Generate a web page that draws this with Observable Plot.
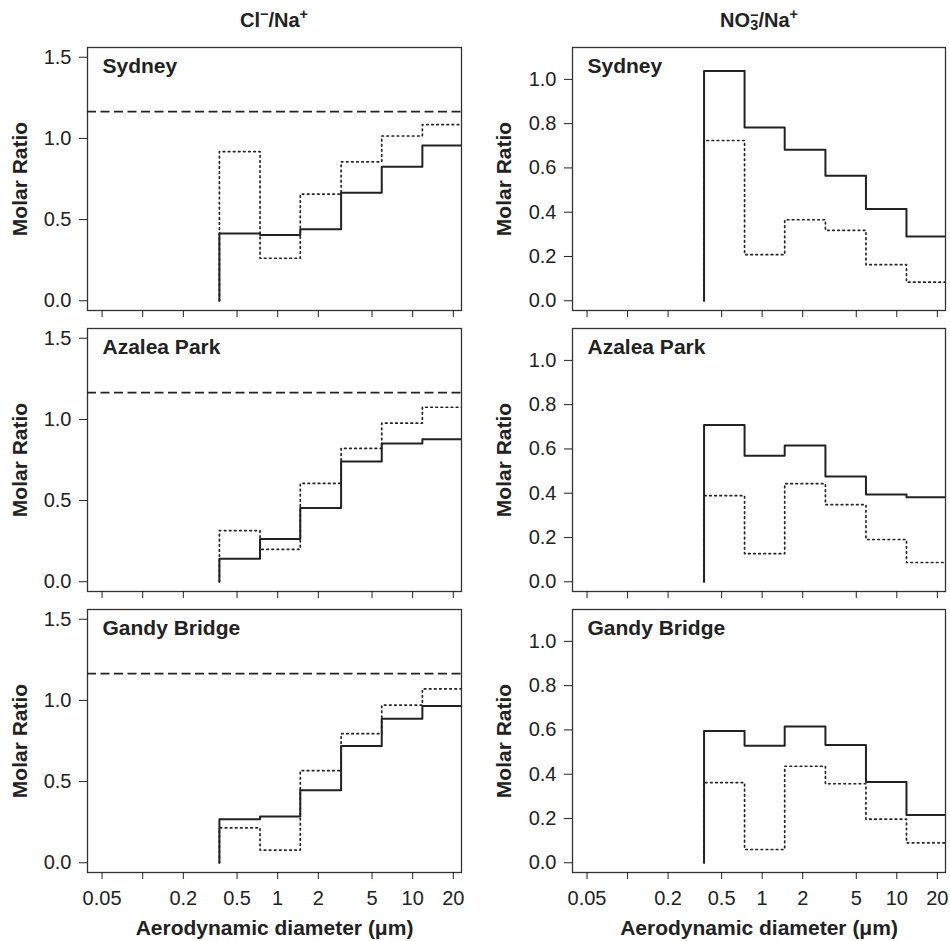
<!DOCTYPE html>
<html><head><meta charset="utf-8">
<script src="https://cdn.jsdelivr.net/npm/d3@7"></script>
<script src="https://cdn.jsdelivr.net/npm/@observablehq/plot@0.6"></script>
<style>
body{margin:0;background:#fff;}
#chart{position:relative;width:950px;height:941px;background:#fff;font-family:"Liberation Sans",Arial,Helvetica,sans-serif;color:#222;overflow:hidden;}
.panel{position:absolute;}
.title{position:absolute;top:8px;width:374px;text-align:center;font-weight:bold;font-size:20px;line-height:24px;white-space:nowrap;}
.title sup{font-size:0.72em;line-height:0;}
.title .stack{display:inline-flex;flex-direction:column;align-items:center;font-size:0.72em;line-height:0.72em;vertical-align:0.5em;}
</style></head><body><div id="chart"></div>
<script>
const sites = ["Sydney", "Azalea Park", "Gandy Bridge"];
const binEdges = [0.37, 0.74, 1.47, 2.95, 5.9, 11.8, 24];
const clNaSolid = [
  [0.415, 0.405, 0.44, 0.665, 0.825, 0.956],
  [0.141, 0.264, 0.455, 0.741, 0.851, 0.878],
  [0.268, 0.285, 0.447, 0.719, 0.887, 0.965]
];
const clNaDotted = [
  [0.919, 0.262, 0.657, 0.856, 1.015, 1.085],
  [0.315, 0.2, 0.606, 0.821, 0.977, 1.075],
  [0.215, 0.078, 0.567, 0.795, 0.971, 1.071]
];
const no3NaSolid = [
  [1.038, 0.783, 0.682, 0.565, 0.414, 0.29],
  [0.708, 0.569, 0.615, 0.476, 0.394, 0.382],
  [0.595, 0.529, 0.616, 0.532, 0.365, 0.216]
];
const no3NaDotted = [
  [0.724, 0.208, 0.366, 0.318, 0.163, 0.084],
  [0.389, 0.127, 0.443, 0.348, 0.191, 0.087],
  [0.362, 0.06, 0.436, 0.357, 0.197, 0.09]
];
const seawaterClNa = 1.165;
const xTicks = [0.05, 0.1, 0.2, 0.5, 1, 2, 5, 10, 20];
const xTickLabels = ["0.05", "", "0.2", "0.5", "1", "2", "5", "10", "20"];
const yTicksCl = [0, 0.5, 1, 1.5];
const yTicksNO3 = [0, 0.2, 0.4, 0.6, 0.8, 1.0];
const yLabel = "Molar Ratio";
const xLabel = "Aerodynamic diameter (μm)";
const columnTitles = [
  "Cl<sup>−</sup>/Na<sup>+</sup>",
  "NO<span class='stack'><span>−</span><span>3</span></span>/Na<sup>+</sup>"
];

const chart = document.getElementById("chart");
const ink = "#222";

function stepPoints(vals) {
  const pts = [{x: binEdges[0], y: 0}];
  vals.forEach((v, i) => pts.push({x: binEdges[i], y: v}));
  pts.push({x: binEdges[vals.length], y: vals[vals.length - 1]});
  return pts;
}

const rowTops = [37, 318, 599];
const xLabelData = xTicks.map((v, i) => ({v, label: xTickLabels[i]})).filter(d => d.label !== "");

for (let col = 0; col < 2; col++) {
  const t = document.createElement("div");
  t.className = "title";
  t.style.left = (col === 0 ? 87 : 572) + "px";
  t.innerHTML = columnTitles[col];
  chart.appendChild(t);

  for (let row = 0; row < 3; row++) {
    const isCl = col === 0;
    const bottom = row === 2;
    const solid = isCl ? clNaSolid[row] : no3NaSolid[row];
    const dotted = isCl ? clNaDotted[row] : no3NaDotted[row];
    const marks = [
      Plot.frame({stroke: "#333", strokeWidth: 1.3}),
      Plot.axisY(isCl ? yTicksCl : yTicksNO3, {tickSize: 8, tickPadding: 8, tickFormat: d3.format(".1f"), label: null}),
      Plot.axisX(xTicks, {tickSize: 7, tickFormat: () => "", label: null})
    ];
    if (bottom) marks.push(Plot.text(xLabelData, {x: "v", text: "label", frameAnchor: "bottom", dy: 18, lineAnchor: "top", fontSize: 20, fill: ink}));
    if (isCl) marks.push(Plot.ruleY([seawaterClNa], {stroke: ink, strokeWidth: 1.8, strokeDasharray: "9,4.5"}));
    marks.push(Plot.line(stepPoints(dotted), {x: "x", y: "y", curve: "step-after", stroke: ink, strokeWidth: 1.7, strokeDasharray: "1.5,3.6", clip: true}));
    marks.push(Plot.line(stepPoints(solid), {x: "x", y: "y", curve: "step-after", stroke: ink, strokeWidth: 2, clip: true}));
    marks.push(Plot.text([sites[row]], {frameAnchor: "top-left", text: d => d, dx: 15, dy: 11, textAnchor: "start", lineAnchor: "top", fontWeight: "bold", fontSize: 21, fill: ink}));
    marks.push(Plot.text([yLabel], {frameAnchor: "left", text: d => d, rotate: -90, dx: isCl ? -75 : -76, textAnchor: "middle", lineAnchor: "top", fontWeight: "bold", fontSize: 21, fill: ink}));
    if (bottom) marks.push(Plot.text([xLabel], {frameAnchor: "bottom", text: d => d, dy: 48, lineAnchor: "top", fontWeight: "bold", fontSize: 21, fill: ink}));

    const p = Plot.plot({
      width: 475,
      height: bottom ? 342 : 281,
      marginTop: 10,
      marginBottom: bottom ? 69 : 8,
      marginLeft: isCl ? 87 : 97,
      marginRight: isCl ? 14 : 5,
      x: {type: "log", domain: [0.039, 23]},
      y: {domain: isCl ? [-0.06, 1.56] : [-0.044, 1.144]},
      style: {fontFamily: '"Liberation Sans", Arial, Helvetica, sans-serif', fontSize: "20px", color: ink, background: "transparent", overflow: "visible"},
      marks
    });
    p.classList.add("panel");
    p.style.position = "absolute";
    p.style.left = (col * 475) + "px";
    p.style.top = rowTops[row] + "px";
    chart.appendChild(p);
  }
}
</script>
</body></html>
